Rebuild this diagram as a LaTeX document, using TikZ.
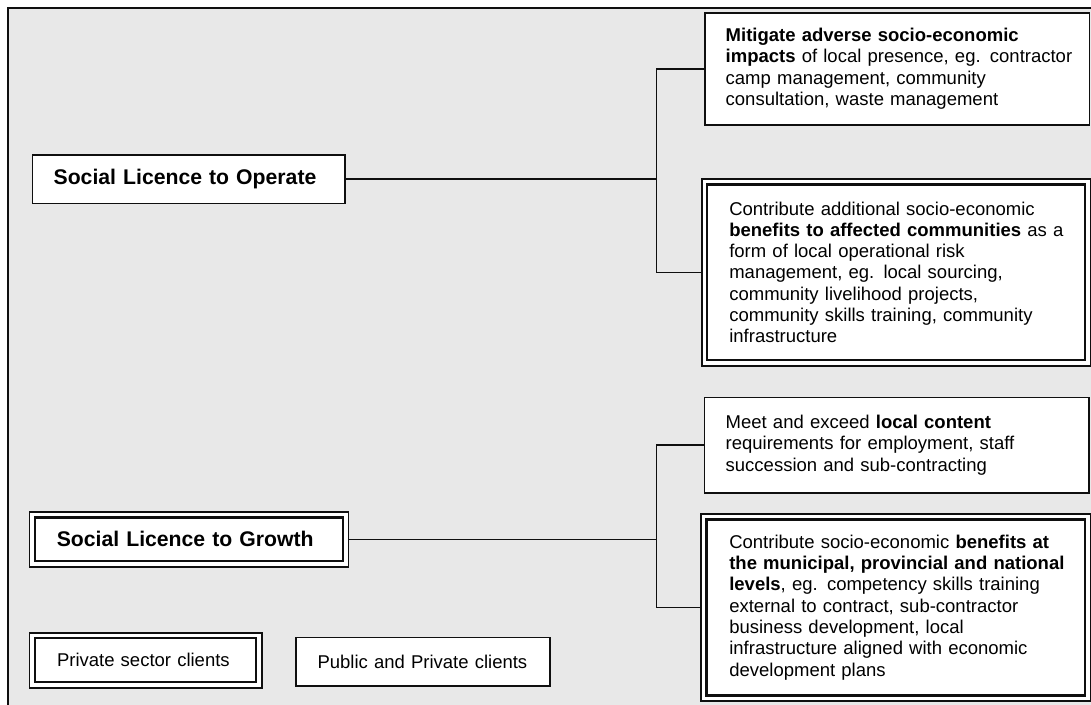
\documentclass[tikz,border=0pt]{standalone}
\usepackage{fontspec}
\setmainfont{Liberation Sans}
\definecolor{bg}{RGB}{232,232,232}
\definecolor{ln}{RGB}{15,15,15}
\newcommand{\ml}[1]{\mbox{#1}}
\begin{document}
\begin{tikzpicture}[x=1pt,y=-1pt,
  every node/.style={outer sep=0pt},
  txtbox/.style={draw=ln, fill=white, line width=1.6pt, anchor=north west, align=left,
    inner ysep=0pt, font=\fontsize{18.5}{21.3}\selectfont},
  titlebox/.style={txtbox, font=\fontsize{21.2}{25}\selectfont\bfseries},
  conn/.style={draw=ln, line width=1.4pt},
  innerline/.style={draw=ln, line width=2.4pt}]
\useasboundingbox (0,0) rectangle (1091,704);
\draw[ln, line width=1.6pt, fill=bg] (8,8) rectangle (1110,720);

% left nodes
\node[titlebox, minimum width=312.7pt, minimum height=48.3pt, text width=270pt, inner xsep=21pt] (slo) at (32.3,155) {\ml{Social Licence to Operate}};
\node[titlebox, minimum width=319pt, minimum height=54.7pt, text width=264pt, inner xsep=27.2pt] (slg) at (29.3,512) {\ml{Social Licence to Growth}};
\node[txtbox, minimum width=232.4pt, minimum height=55pt, text width=177pt, inner xsep=27.4pt] (priv) at (29.3,632.7) {\ml{Private sector clients}};
\node[txtbox, minimum width=254pt, minimum height=48.4pt, text width=211pt, inner xsep=21.3pt] (pub) at (296,637.3) {\ml{Public and Private clients}};

% right nodes
\node[txtbox, minimum width=384.3pt, minimum height=112.3pt, text width=342.9pt, inner xsep=20.7pt] (b1) at (705,12.7)
 {\ml{\textbf{Mitigate adverse socio-economic}}\\ \ml{\textbf{impacts} of local presence, eg. contractor}\\ \ml{camp management, community}\\ \ml{consultation, waste management}\\[6pt]};
\node[txtbox, minimum width=388.8pt, minimum height=186.7pt, text width=333.6pt, inner xsep=27.6pt] (b2) at (701.7,179)
 {\ml{Contribute additional socio-economic}\\ \ml{\textbf{benefits to affected communities} as a}\\ \ml{form of local operational risk}\\ \ml{management, eg. local sourcing,}\\ \ml{community livelihood projects,}\\ \ml{community skills training, community}\\ \ml{infrastructure}};
\node[txtbox, minimum width=384.7pt, minimum height=95.7pt, text width=341.9pt, inner xsep=21.4pt] (b3) at (704.3,397.3)
 {\ml{Meet and exceed \textbf{local content}}\\ \ml{requirements for employment, staff}\\ \ml{succession and sub-contracting}};
\node[txtbox, minimum width=389.5pt, minimum height=187pt, text width=332.9pt, inner xsep=28.3pt] (b4) at (701,514)
 {\ml{Contribute socio-economic \textbf{benefits at}}\\ \ml{\textbf{the municipal, provincial and national}}\\ \ml{\textbf{levels}, eg. competency skills training}\\ \ml{external to contract, sub-contractor}\\ \ml{business development, local}\\ \ml{infrastructure aligned with economic}\\ \ml{development plans}};

% inner lines of double boxes
\foreach \n in {slg,priv,b2,b4}{
  \draw[innerline] ([xshift=5.5pt,yshift=-5.5pt]\n.north west) rectangle ([xshift=-5.5pt,yshift=5.5pt]\n.south east);
}

% connectors
\coordinate (jx) at (656.7,0);
\draw[conn] (slo.east) -- (slo.east -| jx);
\draw[conn] (b1.west) -| (jx |- b2.west) -- (b2.west);
\draw[conn] (slg.east) -- (slg.east -| jx);
\draw[conn] (b3.west) -| (jx |- b4.west) -- (b4.west);
\end{tikzpicture}
\end{document}
